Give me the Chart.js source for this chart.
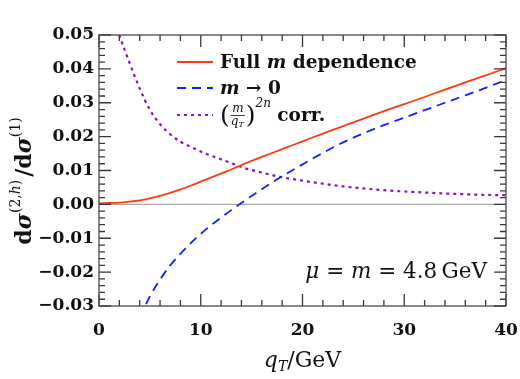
<!DOCTYPE html>
<html>
<head>
<meta charset="utf-8">
<script src="https://cdn.jsdelivr.net/npm/chart.js@4"></script>
<style>
  body { margin: 0; background: #fff; }
  canvas { display: block; }
</style>
</head>
<body>
<canvas id="chart" width="520" height="379"></canvas>
<script>
// qT grid (GeV) and the three curves
const qT = [0, 1, 2, 3, 4, 5, 6, 7, 8, 9, 10, 11, 12, 13, 14, 16, 18, 20, 22, 24, 26, 28, 30, 32, 34, 36, 38, 40];
const fullMass = [0.0003, 0.0004, 0.0005, 0.0008, 0.0012, 0.0018, 0.0025, 0.0034, 0.0044, 0.0055, 0.0067, 0.0079, 0.0091, 0.0103, 0.0116, 0.0140, 0.0163, 0.0186, 0.0209, 0.0231, 0.0253, 0.0275, 0.0296, 0.0317, 0.0339, 0.0360, 0.0381, 0.0402];
const masslessLimit = [null, null, null, null, -0.0335, -0.0272, -0.0222, -0.0180, -0.0146, -0.0115, -0.0087, -0.0062, -0.0039, -0.0017, 0.0004, 0.0045, 0.0083, 0.0118, 0.0152, 0.0183, 0.0210, 0.0234, 0.0256, 0.0278, 0.0300, 0.0322, 0.0344, 0.0367];
const powerCorr = [null, 0.0600, 0.0500, 0.0418, 0.0342, 0.0279, 0.0237, 0.0207, 0.0185, 0.0170, 0.0156, 0.0144, 0.0133, 0.0122, 0.0110, 0.0094, 0.0080, 0.0070, 0.0061, 0.0053, 0.0047, 0.0042, 0.0038, 0.0035, 0.0032, 0.0030, 0.0028, 0.0027];

const xTicks = ['0', '10', '20', '30', '40'];
const yTicks = ['\u22120.03', '\u22120.02', '\u22120.01', '0.00', '0.01', '0.02', '0.03', '0.04', '0.05'];

const RED = '#ff3a12';
const BLUE = '#1020ff';
const PURPLE = '#8a10d0';
const FRAME = '#4a4a4a';
const SERIF = '"DejaVu Serif", serif';

function pts(ys) {
  return qT.map((x, i) => ({ x: x, y: ys[i] }));
}

// draw a run of text pieces with their own fonts / baseline shifts
function runWidth(ctx, runs) {
  let w = 0;
  runs.forEach(r => { ctx.font = r.font; w += ctx.measureText(r.t).width + (r.gap || 0); });
  return w;
}
function drawRuns(ctx, x, y, runs) {
  runs.forEach(r => {
    ctx.font = r.font;
    ctx.fillText(r.t, x, y + (r.dy || 0));
    x += ctx.measureText(r.t).width + (r.gap || 0);
  });
  return x;
}

const decor = {
  id: 'decor',
  beforeDatasetsDraw(chart) {
    const { ctx, chartArea: a, scales: { y } } = chart;
    const y0 = y.getPixelForValue(0);
    ctx.save();
    ctx.strokeStyle = '#a8a8a8';
    ctx.lineWidth = 1.2;
    ctx.beginPath();
    ctx.moveTo(a.left, y0);
    ctx.lineTo(a.right, y0);
    ctx.stroke();
    ctx.restore();
  },
  afterDatasetsDraw(chart) {
    const { ctx, chartArea: a, scales: { y } } = chart;
    ctx.save();
    // legend
    const lx = a.left + 78, tx = a.left + 121;
    const rows = [
      { y: a.top + 27, color: RED, dash: [], width: 1.8 },
      { y: a.top + 53, color: BLUE, dash: [9, 6], width: 1.8 },
      { y: a.top + 80, color: PURPLE, dash: [3, 4], width: 2.2 }
    ];
    rows.forEach(r => {
      ctx.strokeStyle = r.color;
      ctx.lineWidth = r.width;
      ctx.setLineDash(r.dash);
      ctx.beginPath();
      ctx.moveTo(lx, r.y);
      ctx.lineTo(lx + 36, r.y);
      ctx.stroke();
    });
    ctx.setLineDash([]);
    ctx.fillStyle = '#111';
    ctx.textBaseline = 'alphabetic';
    const B = `bold 18.5px ${SERIF}`, BI = `bold italic 18.5px ${SERIF}`;
    drawRuns(ctx, tx, rows[0].y + 6, [
      { t: 'Full ', font: B }, { t: 'm', font: BI }, { t: ' dependence', font: B }
    ]);
    drawRuns(ctx, tx, rows[1].y + 6, [
      { t: 'm', font: BI }, { t: ' \u2192 0', font: B }
    ]);
    // (m/qT)^2n corr.
    let cx = tx;
    const cy = rows[2].y;
    ctx.font = `25px ${SERIF}`;
    ctx.fillText('(', cx, cy + 8);
    cx += ctx.measureText('(').width + 1;
    ctx.font = `italic 12px ${SERIF}`;
    const mw = ctx.measureText('m').width;
    ctx.fillText('m', cx + 1.5, cy - 3);
    ctx.fillText('q', cx, cy + 10);
    const qw = ctx.measureText('q').width;
    ctx.font = `italic 8px ${SERIF}`;
    ctx.fillText('T', cx + qw, cy + 12);
    const fw = qw + ctx.measureText('T').width;
    ctx.fillRect(cx, cy, Math.max(mw, fw) + 1, 0.8);
    cx += Math.max(mw, fw) + 2;
    ctx.font = `25px ${SERIF}`;
    ctx.fillText(')', cx, cy + 8);
    cx += ctx.measureText(')').width;
    ctx.font = `italic 12px ${SERIF}`;
    ctx.fillText('2n', cx, cy - 8);
    cx += ctx.measureText('2n').width;
    ctx.font = B;
    ctx.fillText(' corr.', cx, cy + 6);

    // scale annotation
    const R = `21.5px ${SERIF}`, I = `italic 21.5px ${SERIF}`;
    const ann = [
      { t: '\u03bc', font: I }, { t: ' = ', font: R }, { t: 'm', font: I },
      { t: ' = 4.8\u2009GeV', font: R }
    ];
    drawRuns(ctx, a.right - 19 - runWidth(ctx, ann), y.getPixelForValue(-0.0218), ann);
    ctx.restore();
  },
  afterDraw(chart) {
    const { ctx, chartArea: a } = chart;
    const sx = chart.scales.x, sy = chart.scales.y;
    ctx.save();
    ctx.setLineDash([]);
    // inward ticks on all four sides, taken from the scales
    ctx.strokeStyle = '#383838';
    ctx.lineWidth = 1.3;
    ctx.beginPath();
    for (let i = 0; i <= 20; i++) {
      const px = sx.getPixelForValue(i * 2);
      const len = i % 5 === 0 ? 12 : 6;
      ctx.moveTo(px, a.bottom);
      ctx.lineTo(px, a.bottom - len);
      ctx.moveTo(px, a.top);
      ctx.lineTo(px, a.top + len);
    }
    for (let i = 0; i <= 40; i++) {
      const py = sy.getPixelForValue(-0.03 + i * 0.002);
      const len = i % 5 === 0 ? 12 : 6;
      ctx.moveTo(a.left, py);
      ctx.lineTo(a.left + len, py);
      ctx.moveTo(a.right, py);
      ctx.lineTo(a.right - len, py);
    }
    ctx.stroke();
    // frame
    ctx.strokeStyle = FRAME;
    ctx.lineWidth = 1.3;
    ctx.strokeRect(a.left, a.top, a.right - a.left, a.bottom - a.top);

    ctx.fillStyle = '#111';
    ctx.textBaseline = 'alphabetic';
    // x title: qT/GeV
    const xt = [
      { t: 'q', font: `italic 22px ${SERIF}` },
      { t: 'T', font: `italic 14px ${SERIF}`, dy: 4 },
      { t: '/GeV', font: `22px ${SERIF}` }
    ];
    drawRuns(ctx, (a.left + a.right) / 2 - runWidth(ctx, xt) / 2, 367, xt);
    // y title: dsigma^(2,h) / dsigma^(1)
    const yt = [
      { t: 'd', font: `bold 22px ${SERIF}` },
      { t: '\u03c3', font: `bold italic 22px ${SERIF}` },
      { t: '(2,', font: `14px ${SERIF}`, dy: -11 },
      { t: 'h', font: `italic 14px ${SERIF}`, dy: -11 },
      { t: ')', font: `14px ${SERIF}`, dy: -11, gap: 3 },
      { t: '/d', font: `bold 22px ${SERIF}` },
      { t: '\u03c3', font: `bold italic 22px ${SERIF}` },
      { t: '(1)', font: `14px ${SERIF}`, dy: -11 }
    ];
    ctx.translate(31, 181);
    ctx.rotate(-Math.PI / 2);
    drawRuns(ctx, -runWidth(ctx, yt) / 2, 0, yt);
    ctx.restore();
  }
};

new Chart(document.getElementById('chart'), {
  type: 'line',
  data: {
    datasets: [
      { label: 'Full m dependence', data: pts(fullMass), borderColor: RED, borderWidth: 1.8 },
      { label: 'm \u2192 0', data: pts(masslessLimit), borderColor: BLUE, borderWidth: 1.8, borderDash: [9, 6] },
      { label: '(m/qT)^2n corr.', data: pts(powerCorr), borderColor: PURPLE, borderWidth: 2.2, borderDash: [3, 4] }
    ]
  },
  options: {
    responsive: false,
    animation: false,
    events: [],
    layout: { padding: { top: 35, right: 14, left: 0, bottom: 0 } },
    elements: {
      point: { radius: 0 },
      line: { cubicInterpolationMode: 'monotone', fill: false }
    },
    plugins: { legend: { display: false }, tooltip: { enabled: false } },
    scales: {
      x: {
        type: 'linear', min: 0, max: 40,
        grid: { display: false, drawTicks: false },
        border: { display: false },
        ticks: {
          stepSize: 10, padding: 14, color: '#111', maxRotation: 0,
          font: { family: SERIF, size: 17, weight: 'bold' },
          callback: (v, i) => xTicks[i]
        },
        afterFit: s => { s.height = 73; s.paddingLeft = 0; s.paddingRight = 0; }
      },
      y: {
        type: 'linear', min: -0.03, max: 0.05,
        grid: { display: false, drawTicks: false },
        border: { display: false },
        ticks: {
          stepSize: 0.01, padding: 5, color: '#111',
          font: { family: SERIF, size: 17, weight: 'bold' },
          callback: (v, i) => yTicks[i]
        },
        afterFit: s => { s.width = 99; s.paddingTop = 0; s.paddingBottom = 0; }
      }
    }
  },
  plugins: [decor]
});
</script>
</body>
</html>
